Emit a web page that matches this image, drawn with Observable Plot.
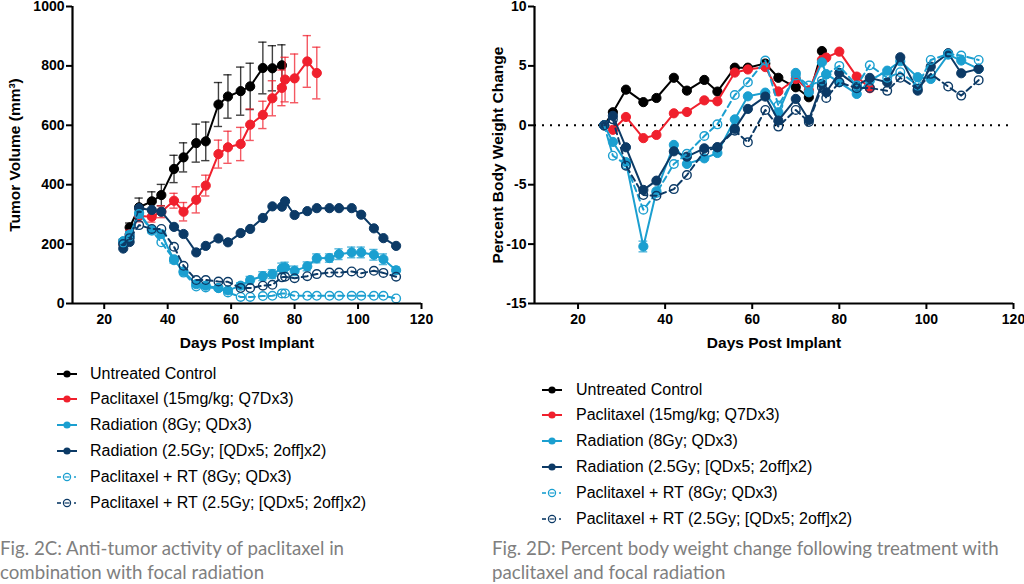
<!DOCTYPE html>
<html><head><meta charset="utf-8">
<script src="https://cdn.jsdelivr.net/npm/d3@7"></script>
<script src="https://cdn.jsdelivr.net/npm/@observablehq/plot@0.6"></script>
<style>
html,body{margin:0;padding:0;background:#fff}
body{width:1024px;height:584px;position:relative;overflow:hidden;font-family:"Liberation Sans",Arial,sans-serif}
.chart{position:absolute;top:0}
.leg{position:absolute;font-size:16px;color:#000;white-space:nowrap;height:20px;line-height:20px}
.leg svg{position:absolute;top:4px}
.cap{position:absolute;top:537px;font-family:Lato,"Open Sans",sans-serif;font-size:18.7px;line-height:23.5px;color:#7f7f7f;white-space:nowrap}
</style></head>
<body>
<div id="c1" class="chart" style="left:0"></div>
<div id="c2" class="chart" style="left:480px"></div>
<div id="legs"></div>
<div class="cap" style="left:0">Fig. 2C: Anti-tumor activity of paclitaxel in<br>combination with focal radiation</div>
<div class="cap" style="left:492px">Fig. 2D: Percent body weight change following treatment with<br>paclitaxel and focal radiation</div>
<script>
// ---- data ----
const days = [26,28,31,35,38,42,45,49,52,56,59,63,66,70,73,76,77,80,84,87,91,94,98,101,105,108,112];
const groupNames = ["Untreated Control","Paclitaxel (15mg/kg; Q7Dx3)","Radiation (8Gy; QDx3)","Radiation (2.5Gy; [QDx5; 2off]x2)","Paclitaxel + RT (8Gy; QDx3)","Paclitaxel + RT (2.5Gy; [QDx5; 2off]x2)"];
const groupColors = ["#000000","#f0202d","#1b9fd0","#0c3a66","#1b9fd0","#0c3a66"];
const groupFilled = [true,true,true,true,false,false];
const xTicks = [20,40,60,80,100,120];
const tvTicks = [0,200,400,600,800,1000];
const bwTicks = [-15,-10,-5,0,5,10];

// Tumor volume (mm3)
const tvControl    = [205,256,324,344,365,453,492,540,546,670,697,715,731,793,792,802];
const tvControlErr = [10,15,31,32,36,46,49,64,65,74,73,81,78,87,76,69];
const tvPac        = [205,232,295,292,309,346,309,349,397,503,526,537,602,635,691,726,754,758,815,776];
const tvPacErr     = [10,15,20,18,20,25,31,44,35,47,54,56,53,46,59,60,75,82,87,87];
const tvRad8       = [210,232,305,248,234,146,108,65,60,52,44,60,79,92,99,118,121,110,125,152,153,166,172,172,164,149,112];
const tvRad8Err    = [8,10,12,10,10,10,8,6,6,6,6,10,12,15,15,18,18,16,15,15,14,18,18,18,18,18,12];
const tvRad25      = [185,207,321,315,309,258,234,172,194,219,206,237,251,288,327,326,344,298,311,321,321,321,321,299,253,220,194];
const tvPacRad8    = [205,225,301,245,206,149,104,57,54,52,37,22,22,25,26,34,34,26,26,26,26,26,26,26,26,26,17];
const tvPacRad25   = [200,220,264,251,251,191,127,79,79,74,73,52,52,60,63,88,90,85,92,99,104,104,108,102,110,103,90];

// Percent body weight change
const bwControl  = [0,1.1,3.0,1.95,2.3,4.0,2.92,3.82,2.84,4.85,4.85,5.2,4.0,3.2,2.36,6.25];
const bwPac      = [0,-0.38,0.7,-1.08,-0.81,1.01,1.12,2.1,2.02,4.44,4.7,4.9,2.85,3.9,2.95,5.5,5.7,6.2,4.1,3.12];
const bwRad8     = [0,-1.4,-3.1,-10.2,-5.55,-1.65,-3.25,-2.78,-2.33,0.5,2.44,2.75,1.1,4.41,2.78,5.3,4.3,3.62,2.64,3.76,4.6,5.39,4.05,3.9,5.95,5.45,4.75];
const bwRad8Err  = [0,0,0,0.45,0,0,0,0,0,0,0,0,0,0,0,0,0,0,0,0,0,0,0,0,0,0,0];
const bwRad25    = [0,0.8,-1.85,-5.44,-4.66,-2.19,-2.64,-1.94,-1.85,-0.3,1.38,2.42,0.4,2.22,0.45,3.49,2.78,4.41,3.34,3.99,3.62,5.73,2.92,4.94,6.07,4.38,4.75];
const bwPacRad8  = [0,-2.56,-3.3,-7.1,-5.7,-3.26,-2.4,-0.9,0.08,2.55,3.62,5.45,1.66,4.2,3.34,3.76,4.27,5.0,3.34,5.05,4.0,4.47,3.34,5.5,6.0,5.87,5.5];
const bwPacRad25 = [0,0.5,-3.4,-5.87,-5.93,-5.37,-4.19,-2.2,-1.85,-0.45,-1.43,1.29,-0.11,1.29,0.28,3.2,2.3,3.62,3.12,3.15,2.9,4.0,3.06,4.33,3.26,2.5,3.8];

// ---- helpers ----
const rows = (vals, errs) => vals.map((v,i) => ({day: days[i], v, e: errs ? errs[i] : 0}));

function seriesMarks(vals, errs, gi, capHalf) {
  const data = rows(vals, errs);
  const c = groupColors[gi], filled = groupFilled[gi];
  const marks = [];
  const ed = data.filter(d => d.e > 0);
  if (ed.length) {
    marks.push(Plot.ruleX(ed, {x:"day", y1:d=>d.v-d.e, y2:d=>d.v+d.e, stroke:c, strokeWidth:1.4, strokeOpacity:0.75}));
    marks.push(Plot.ruleY(ed, {y:d=>d.v+d.e, x1:d=>d.day-capHalf, x2:d=>d.day+capHalf, stroke:c, strokeWidth:1.4, strokeOpacity:0.75}));
    marks.push(Plot.ruleY(ed, {y:d=>d.v-d.e, x1:d=>d.day-capHalf, x2:d=>d.day+capHalf, stroke:c, strokeWidth:1.4, strokeOpacity:0.75}));
  }
  marks.push(Plot.line(data, {x:"day", y:"v", stroke:c, strokeWidth:2, strokeDasharray: filled ? null : "6,4"}));
  marks.push(Plot.dot(data, {x:"day", y:"v", r: filled ? 4.6 : 4.3, fill: filled ? c : "none", stroke:c, strokeWidth: filled ? 1 : 1.4}));
  return marks;
}

const axisStyle = {tickSize:6, fontSize:14, fontWeight:"bold", strokeWidth:2, label:null};

// ---- left chart ----
const p1 = Plot.plot({
  width:480, height:355, marginLeft:72, marginRight:59, marginTop:6, marginBottom:52,
  style:{fontFamily:"Liberation Sans, Arial, sans-serif", background:"transparent", overflow:"visible", color:"#000"},
  x:{domain:[10,120]}, y:{domain:[0,1000]},
  marks:[
    ...seriesMarks(tvControl, tvControlErr, 0, 1.3),
    ...seriesMarks(tvPac, tvPacErr, 1, 1.3),
    ...seriesMarks(tvRad8, tvRad8Err, 2, 1.3),
    ...seriesMarks(tvRad25, null, 3, 1.3),
    ...seriesMarks(tvPacRad8, null, 4, 1.3),
    ...seriesMarks(tvPacRad25, null, 5, 1.3),
    Plot.ruleX([10], {y1:0, y2:1000, strokeWidth:2.2}),
    Plot.ruleY([0], {x1:10, x2:120, strokeWidth:2.2}),
    Plot.axisX({...axisStyle, ticks:xTicks, tickPadding:5, tickFormat:d=>String(d)}),
    Plot.axisY({...axisStyle, ticks:tvTicks, tickPadding:2, tickFormat:d=>String(d)}),
    Plot.text(["Days Post Implant"], {frameAnchor:"bottom", dy:40, textAnchor:"middle", lineAnchor:"middle", fontSize:15.5, fontWeight:"bold"}),
    Plot.text(["Tumor Volume (mm³)"], {frameAnchor:"left", dx:-57, rotate:-90, textAnchor:"middle", lineAnchor:"middle", fontSize:15.5, fontWeight:"bold"})
  ]
});
document.getElementById("c1").appendChild(p1);

// ---- right chart ----
const p2 = Plot.plot({
  width:544, height:355, marginLeft:54, marginRight:11, marginTop:6, marginBottom:52,
  style:{fontFamily:"Liberation Sans, Arial, sans-serif", background:"transparent", overflow:"visible", color:"#000"},
  x:{domain:[10,120]}, y:{domain:[-15,10]},
  marks:[
    Plot.ruleY([0], {x1:10, x2:120, strokeWidth:2, strokeDasharray:"2,6"}),
    ...seriesMarks(bwControl, null, 0, 1),
    ...seriesMarks(bwPac, null, 1, 1),
    ...seriesMarks(bwRad8, bwRad8Err, 2, 1),
    ...seriesMarks(bwRad25, null, 3, 1),
    ...seriesMarks(bwPacRad8, null, 4, 1),
    ...seriesMarks(bwPacRad25, null, 5, 1),
    Plot.ruleX([10], {y1:-15, y2:10, strokeWidth:2.2}),
    Plot.ruleY([-15], {x1:10, x2:120, strokeWidth:2.2}),
    Plot.axisX({...axisStyle, ticks:xTicks, tickPadding:5, tickFormat:d=>String(d)}),
    Plot.axisY({...axisStyle, ticks:bwTicks, tickPadding:2, tickFormat:d=>String(d)}),
    Plot.text(["Days Post Implant"], {frameAnchor:"bottom", dy:40, textAnchor:"middle", lineAnchor:"middle", fontSize:15.5, fontWeight:"bold"}),
    Plot.text(["Percent Body Weight Change"], {frameAnchor:"left", dx:-36, rotate:-90, textAnchor:"middle", lineAnchor:"middle", fontSize:15.5, fontWeight:"bold"})
  ]
});
document.getElementById("c2").appendChild(p2);

// ---- legends ----
function swatch(gi) {
  const c = groupColors[gi];
  if (groupFilled[gi]) {
    return `<svg width="22" height="12"><line x1="0" y1="6" x2="20" y2="6" stroke="${c}" stroke-width="2"/><circle cx="10" cy="6" r="3.6" fill="${c}"/></svg>`;
  }
  return `<svg width="22" height="12"><line x1="0" y1="6" x2="4" y2="6" stroke="${c}" stroke-width="1.6"/><circle cx="10" cy="6" r="3.6" fill="none" stroke="${c}" stroke-width="1.2"/><line x1="7.5" y1="6" x2="12.5" y2="6" stroke="${c}" stroke-width="1.2"/><line x1="17" y1="6" x2="19" y2="6" stroke="${c}" stroke-width="1.6"/></svg>`;
}
const legs = document.getElementById("legs");
function legend(x0, textX, y0, step) {
  groupNames.forEach((name, i) => {
    const d = document.createElement("div");
    d.className = "leg";
    d.style.left = x0 + "px";
    d.style.top = (y0 + i*step - 10) + "px";
    d.innerHTML = swatch(i) + `<span style="position:absolute;left:${textX - x0}px">${name}</span>`;
    legs.appendChild(d);
  });
}
legend(57, 90, 373.5, 25.9);
legend(542, 576, 389.5, 25.8);
</script>
</body></html>
